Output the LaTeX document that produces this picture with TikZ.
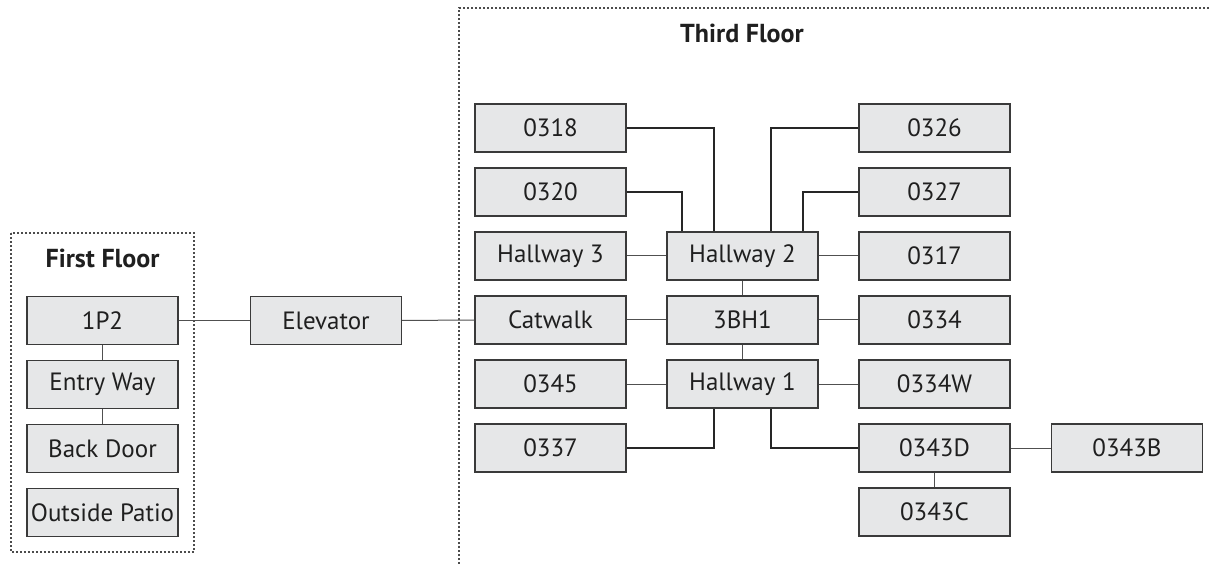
\documentclass[tikz,border=0pt]{standalone}
\usepackage{fontspec}
\setmainfont{PT Sans}
\usetikzlibrary{calc}
\definecolor{boxfill}{HTML}{E6E7E8}
\definecolor{boxline}{HTML}{3A3A3A}
\definecolor{thinline}{HTML}{505050}
\tikzset{
  x=1pt,y=-1pt,
  room/.style={draw=boxline,fill=boxfill,line width=1.1pt,minimum width=151pt,minimum height=48pt,inner sep=0pt,font=\fontsize{25}{28}\selectfont,text=black!88},
  link/.style={draw=thinline,line width=1pt},
  elbow/.style={draw=black!85,line width=1.3pt},
  floorbox/.style={draw=black!70,line width=1.3pt,dash pattern=on 1.6pt off 2.4pt},
  title/.style={font=\fontsize{26}{29}\selectfont\bfseries,text=black!88}
}
\begin{document}
\begin{tikzpicture}
\useasboundingbox (0,0) rectangle (1211,564);
% floor areas
\draw[floorbox] (11,233) rectangle (194,552);
\draw[floorbox] (459,564) -- (459,8) -- (1211,8);
\node[title] (t1) at (102.5,258) {First Floor};
\node[title] (t3) at (742,33) {Third Floor};
% first floor
\node[room] (p12) at (102.5,320.5) {1P2};
\node[room] (entry) at (102.5,384.5) {Entry Way};
\node[room] (back) at (102.5,448.5) {Back Door};
\node[room] (patio) at (102.5,512.5) {Outside Patio};
\node[room] (elev) at (326,320.5) {Elevator};
% third floor left column
\node[room] (r0318) at (550.5,128) {0318};
\node[room] (r0320) at (550.5,192) {0320};
\node[room] (h3) at (550.5,256) {Hallway 3};
\node[room] (cat) at (550.5,320) {Catwalk};
\node[room] (r0345) at (550.5,384) {0345};
\node[room] (r0337) at (550.5,448) {0337};
% middle column
\node[room] (h2) at (742.5,256) {Hallway 2};
\node[room] (bh1) at (742.5,320) {3BH1};
\node[room] (h1) at (742.5,384) {Hallway 1};
% right column
\node[room] (r0326) at (934.5,128) {0326};
\node[room] (r0327) at (934.5,192) {0327};
\node[room] (r0317) at (934.5,256) {0317};
\node[room] (r0334) at (934.5,320) {0334};
\node[room] (r0334w) at (934.5,384) {0334W};
\node[room] (r0343d) at (934.5,448) {0343D};
\node[room] (r0343c) at (934.5,512) {0343C};
\node[room] (r0343b) at (1127,448) {0343B};
% straight links
\draw[link] (p12) -- (entry);
\draw[link] (entry) -- (back);
\draw[link] (p12) -- (elev);
\draw[link] (elev) -- (cat);
\draw[link] (h3) -- (h2);
\draw[link] (cat) -- (bh1);
\draw[link] (r0345) -- (h1);
\draw[link] (h2) -- (r0317);
\draw[link] (bh1) -- (r0334);
\draw[link] (h1) -- (r0334w);
\draw[link] (h2) -- (bh1);
\draw[link] (bh1) -- (h1);
\draw[link] (r0343d) -- (r0343b);
\draw[link] (r0343d) -- (r0343c);
% elbow links
\draw[elbow] (r0318.east) -| ([xshift=-28.5pt]h2.north);
\draw[elbow] (r0320.east) -| ([xshift=-60.5pt]h2.north);
\draw[elbow] (r0326.west) -| ([xshift=28.5pt]h2.north);
\draw[elbow] (r0327.west) -| ([xshift=60.5pt]h2.north);
\draw[elbow] (r0337.east) -| ([xshift=-28.5pt]h1.south);
\draw[elbow] ([xshift=28.5pt]h1.south) |- (r0343d.west);
\end{tikzpicture}
\end{document}
